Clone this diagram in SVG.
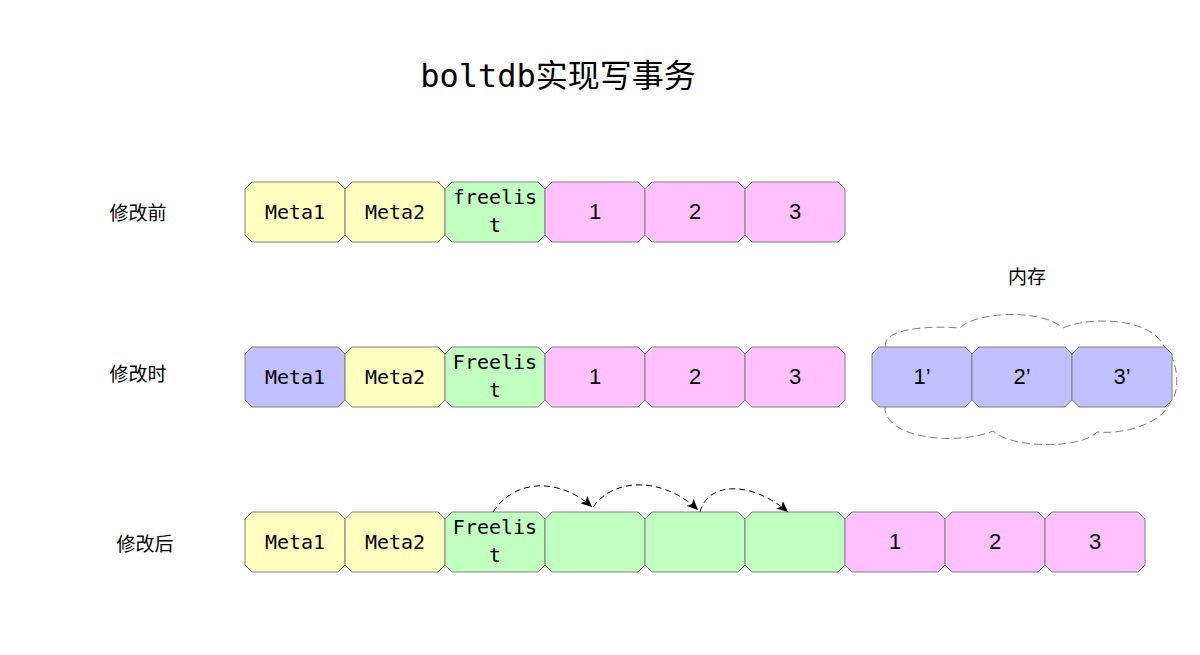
<svg xmlns="http://www.w3.org/2000/svg" width="1200" height="655" viewBox="0 0 1200 655">
<defs>
<style>
.cell{stroke:#808080;stroke-width:1}
.y{fill:#ffffc0}.g{fill:#c0ffc0}.p{fill:#ffc0ff}.b{fill:#c0c0ff}
.mono{font-family:"DejaVu Sans Mono","Liberation Mono",monospace;font-size:20px;fill:#000;text-anchor:middle}
.num{font-family:"Liberation Sans","Noto Sans",sans-serif;font-size:22px;fill:#000;text-anchor:middle}
.lbl{font-family:"Noto Sans CJK SC","Noto Sans",sans-serif;font-size:19px;fill:#000;text-anchor:middle}
.title{font-family:"DejaVu Sans Mono","Noto Sans CJK SC",monospace;font-size:32px;fill:#000;text-anchor:middle}
.arr{fill:none;stroke:#000;stroke-width:1;stroke-dasharray:6 4;marker-end:url(#ah)}
</style>
<path id="oct" d="M7 0H93L100 7V53L93 60H7L0 53V7Z"/>
<marker id="ah" markerWidth="12" markerHeight="10" refX="11" refY="5" orient="auto" markerUnits="userSpaceOnUse">
<path d="M0 0L11 5L0 10L2.5 5Z" fill="#000"/>
</marker>
</defs>
<rect width="1200" height="655" fill="#fff"/>
<text class="title" x="558" y="87">boltdb实现写事务</text>

<g id="label-before"><text class="lbl" x="138" y="220">修改前</text></g>
<g id="label-during"><text class="lbl" x="138" y="381">修改时</text></g>
<g id="label-after"><text class="lbl" x="145" y="551">修改后</text></g>
<g id="label-memory"><text class="lbl" x="1027" y="284">内存</text></g>

<g id="memory-cloud">
<path d="M886 347C880 330 925 325 960 328C975 312 1040 308 1063 328C1090 316 1150 318 1163 345C1180 360 1180 395 1170 402C1165 420 1130 435 1097 432C1080 450 1010 448 993 431C960 445 890 440 885 410Z" fill="#fff" stroke="#808080" stroke-width="1" stroke-dasharray="8 4"/>
</g>

<!-- Row 1 -->
<g id="r1-meta1"><use href="#oct" x="245" y="182" class="cell y"/><text class="mono" x="295" y="219">Meta1</text></g>
<g id="r1-meta2"><use href="#oct" x="345" y="182" class="cell y"/><text class="mono" x="395" y="219">Meta2</text></g>
<g id="r1-freelist"><use href="#oct" x="445" y="182" class="cell g"/><text class="mono" x="495" y="204">freelis</text><text class="mono" x="495" y="232">t</text></g>
<g id="r1-p1"><use href="#oct" x="545" y="182" class="cell p"/><text class="num" x="595" y="219">1</text></g>
<g id="r1-p2"><use href="#oct" x="645" y="182" class="cell p"/><text class="num" x="695" y="219">2</text></g>
<g id="r1-p3"><use href="#oct" x="745" y="182" class="cell p"/><text class="num" x="795" y="219">3</text></g>

<!-- Row 2 -->
<g id="r2-meta1"><use href="#oct" x="245" y="347" class="cell b"/><text class="mono" x="295" y="384">Meta1</text></g>
<g id="r2-meta2"><use href="#oct" x="345" y="347" class="cell y"/><text class="mono" x="395" y="384">Meta2</text></g>
<g id="r2-freelist"><use href="#oct" x="445" y="347" class="cell g"/><text class="mono" x="495" y="369">Freelis</text><text class="mono" x="495" y="397">t</text></g>
<g id="r2-p1"><use href="#oct" x="545" y="347" class="cell p"/><text class="num" x="595" y="384">1</text></g>
<g id="r2-p2"><use href="#oct" x="645" y="347" class="cell p"/><text class="num" x="695" y="384">2</text></g>
<g id="r2-p3"><use href="#oct" x="745" y="347" class="cell p"/><text class="num" x="795" y="384">3</text></g>
<g id="m-p1"><use href="#oct" x="872" y="347" class="cell b"/><text class="num" x="922" y="384">1’</text></g>
<g id="m-p2"><use href="#oct" x="972" y="347" class="cell b"/><text class="num" x="1022" y="384">2’</text></g>
<g id="m-p3"><use href="#oct" x="1072" y="347" class="cell b"/><text class="num" x="1122" y="384">3’</text></g>

<!-- Row 3 -->
<g id="r3-meta1"><use href="#oct" x="245" y="512" class="cell y"/><text class="mono" x="295" y="549">Meta1</text></g>
<g id="r3-meta2"><use href="#oct" x="345" y="512" class="cell y"/><text class="mono" x="395" y="549">Meta2</text></g>
<g id="r3-freelist"><use href="#oct" x="445" y="512" class="cell g"/><text class="mono" x="495" y="534">Freelis</text><text class="mono" x="495" y="562">t</text></g>
<g id="r3-f1"><use href="#oct" x="545" y="512" class="cell g"/></g>
<g id="r3-f2"><use href="#oct" x="645" y="512" class="cell g"/></g>
<g id="r3-f3"><use href="#oct" x="745" y="512" class="cell g"/></g>
<g id="r3-p1"><use href="#oct" x="845" y="512" class="cell p"/><text class="num" x="895" y="549">1</text></g>
<g id="r3-p2"><use href="#oct" x="945" y="512" class="cell p"/><text class="num" x="995" y="549">2</text></g>
<g id="r3-p3"><use href="#oct" x="1045" y="512" class="cell p"/><text class="num" x="1095" y="549">3</text></g>

<g id="connectors">
<path class="arr" d="M493 512C515 478 560 478 592 507"/>
<path class="arr" d="M593 507C615 476 665 478 698 510"/>
<path class="arr" d="M700 512C708 481 752 481 788 512"/>
</g>
</svg>
